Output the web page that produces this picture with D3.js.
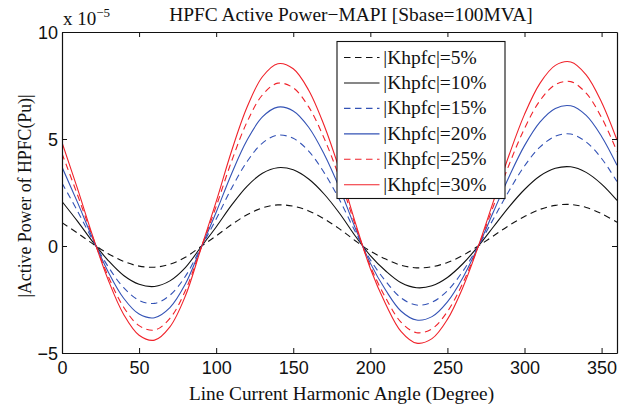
<!DOCTYPE html>
<html>
<head>
<meta charset="utf-8">
<script src="https://cdn.jsdelivr.net/npm/d3@7"></script>
<style>
  body { margin: 0; background: #fff; }
  svg { display: block; font-family: "Liberation Serif", "Times New Roman", serif; }
</style>
</head>
<body>
<div id="chart"></div>
<script>
// angle samples (degree) and active power per |Khpfc| (x 1e-5 pu)
var angles = [0, 10, 20, 30, 40, 50, 60, 70, 80, 90, 100, 110, 120, 130, 140, 150, 160, 170, 180,
              190, 200, 210, 220, 230, 240, 250, 260, 270, 280, 290, 300, 310, 320, 330, 340, 350, 360];
var k5  = [1.09, 0.61, 0.10, -0.36, -0.72, -0.94, -0.99, -0.85, -0.53, -0.03, 0.47, 1.00, 1.46, 1.78, 1.92, 1.86, 1.64, 1.27, 0.80,
           0.26, -0.24, -0.61, -0.90, -1.02, -0.97, -0.77, -0.44, 0.00, 0.48, 0.96, 1.38, 1.71, 1.90, 1.94, 1.80, 1.51, 1.11];
var k10 = [2.08, 1.16, 0.19, -0.68, -1.38, -1.79, -1.89, -1.63, -1.01, -0.06, 0.89, 1.91, 2.79, 3.40, 3.66, 3.56, 3.13, 2.43, 1.53,
           0.49, -0.45, -1.17, -1.72, -1.95, -1.86, -1.47, -0.83, -0.01, 0.91, 1.83, 2.64, 3.27, 3.63, 3.70, 3.44, 2.89, 2.13];
var k15 = [2.94, 1.64, 0.27, -0.97, -1.95, -2.54, -2.68, -2.30, -1.42, -0.09, 1.26, 2.70, 3.94, 4.81, 5.18, 5.03, 4.43, 3.43, 2.16,
           0.70, -0.64, -1.65, -2.43, -2.76, -2.63, -2.09, -1.18, -0.01, 1.29, 2.58, 3.74, 4.62, 5.13, 5.23, 4.86, 4.09, 3.01];
var k20 = [3.69, 2.05, 0.34, -1.21, -2.44, -3.18, -3.35, -2.88, -1.78, -0.11, 1.58, 3.38, 4.94, 6.03, 6.49, 6.31, 5.55, 4.30, 2.71,
           0.88, -0.80, -2.07, -3.05, -3.46, -3.30, -2.61, -1.48, -0.02, 1.62, 3.24, 4.69, 5.79, 6.43, 6.55, 6.10, 5.12, 3.77];
var k25 = [4.32, 2.40, 0.40, -1.42, -2.86, -3.72, -3.93, -3.38, -2.09, -0.13, 1.85, 3.96, 5.79, 7.06, 7.61, 7.39, 6.50, 5.04, 3.18,
           1.03, -0.94, -2.43, -3.57, -4.05, -3.87, -3.06, -1.73, -0.02, 1.89, 3.80, 5.49, 6.79, 7.54, 7.68, 7.14, 6.00, 4.42];
var k30 = [4.84, 2.69, 0.45, -1.59, -3.20, -4.17, -4.40, -3.78, -2.34, -0.15, 2.07, 4.44, 6.48, 7.91, 8.52, 8.28, 7.28, 5.64, 3.56,
           1.15, -1.05, -2.72, -4.00, -4.54, -4.33, -3.43, -1.94, -0.02, 2.12, 4.25, 6.15, 7.60, 8.44, 8.60, 8.00, 6.72, 4.95];
var labels = ["|Khpfc|=5%", "|Khpfc|=10%", "|Khpfc|=15%", "|Khpfc|=20%", "|Khpfc|=25%", "|Khpfc|=30%"];
var xTicks = [0, 50, 100, 150, 200, 250, 300, 350];
var yTicks = [-5, 0, 5, 10];

// line styles
var colors = ["#111", "#111", "#3352b5", "#3352b5", "#f0222a", "#f0222a"];
var dashes = ["6.5,4.5", null, "6.5,4.5", null, "6.5,4.5", null];

var series = [k5, k10, k15, k20, k25, k30];

var width = 631, height = 407;
var x = d3.scaleLinear().domain([0, 360]).range([62, 617]);
var y = d3.scaleLinear().domain([-5, 10]).range([353, 32]);

var svg = d3.select("#chart").append("svg")
    .attr("width", width)
    .attr("height", height);

svg.append("defs").append("clipPath").attr("id", "plot")
  .append("rect")
    .attr("x", x(0)).attr("y", y(10))
    .attr("width", x(360) - x(0)).attr("height", y(-5) - y(10));

var line = d3.line()
    .x(function(d, i) { return x(angles[i]); })
    .y(function(d) { return y(d); })
    .curve(d3.curveCatmullRom);

svg.append("g").attr("clip-path", "url(#plot)")
  .selectAll("path")
  .data(series)
  .enter().append("path")
    .attr("d", line)
    .attr("fill", "none")
    .attr("stroke", function(d, i) { return colors[i]; })
    .attr("stroke-width", 1.1)
    .attr("stroke-dasharray", function(d, i) { return dashes[i]; });

// axes, MATLAB box style with inward ticks
function style(g) {
  g.select(".domain").attr("stroke", "#111").attr("stroke-width", 1.2);
  g.selectAll(".tick line").attr("stroke", "#111");
  g.selectAll("text").attr("fill", "#111").attr("font-size", 18).attr("font-family", null);
}

svg.append("g")
    .attr("transform", "translate(0," + y(-5) + ")")
    .call(d3.axisBottom(x).tickValues(xTicks).tickSizeInner(-5).tickSizeOuter(0).tickPadding(0))
    .call(style)
    .call(function(g) { g.selectAll("text").attr("dy", null).attr("y", 20.5); });

svg.append("g")
    .attr("transform", "translate(0," + y(10) + ")")
    .call(d3.axisTop(x).tickValues(xTicks).tickSizeInner(-5).tickSizeOuter(0).tickFormat(""))
    .call(style);

svg.append("g")
    .attr("transform", "translate(" + x(0) + ",0)")
    .call(d3.axisLeft(y).tickValues(yTicks).tickSizeInner(-5).tickSizeOuter(0).tickPadding(4))
    .call(style)
    .call(function(g) { g.selectAll("text").attr("x", -4).attr("dy", "0.34em"); });

svg.append("g")
    .attr("transform", "translate(" + x(360) + ",0)")
    .call(d3.axisRight(y).tickValues(yTicks).tickSizeInner(-5).tickSizeOuter(0).tickFormat(""))
    .call(style);

// exponent
var ex = svg.append("text").attr("x", 63).attr("y", 25).attr("font-size", 19).attr("fill", "#111");
ex.append("tspan").text("x 10");
ex.append("tspan").attr("dy", -8.5).attr("font-size", 13).text("\u22125");

// titles
svg.append("text")
    .attr("x", 351).attr("y", 21)
    .attr("text-anchor", "middle")
    .attr("font-size", 19.4)
    .attr("fill", "#111")
    .text("HPFC Active Power\u2212MAPI [Sbase=100MVA]");

svg.append("text")
    .attr("x", 341.5).attr("y", 399.5)
    .attr("text-anchor", "middle")
    .attr("font-size", 19.3)
    .attr("fill", "#111")
    .text("Line Current Harmonic Angle (Degree)");

svg.append("text")
    .attr("transform", "translate(31,196) rotate(-90)")
    .attr("text-anchor", "middle")
    .attr("font-size", 17.8)
    .attr("fill", "#111")
    .text("|Active Power of HPFC(Pu)|");

// legend
var lg = svg.append("g").attr("transform", "translate(337,41.5)");
lg.append("rect")
    .attr("width", 168).attr("height", 157)
    .attr("fill", "#fff").attr("stroke", "#111").attr("stroke-width", 1.1);

var row = lg.selectAll("g.row")
  .data(labels)
  .enter().append("g")
    .attr("class", "row")
    .attr("transform", function(d, i) { return "translate(0," + (16 + i * 25.45) + ")"; });

row.append("line")
    .attr("x1", 7).attr("x2", 42.5)
    .attr("stroke", function(d, i) { return colors[i]; })
    .attr("stroke-width", 1.1)
    .attr("stroke-dasharray", function(d, i) { return dashes[i]; });

row.append("text")
    .attr("x", 46.3).attr("y", 6)
    .attr("font-size", 19.5)
    .attr("fill", "#111")
    .text(function(d) { return d; });
</script>
</body>
</html>
